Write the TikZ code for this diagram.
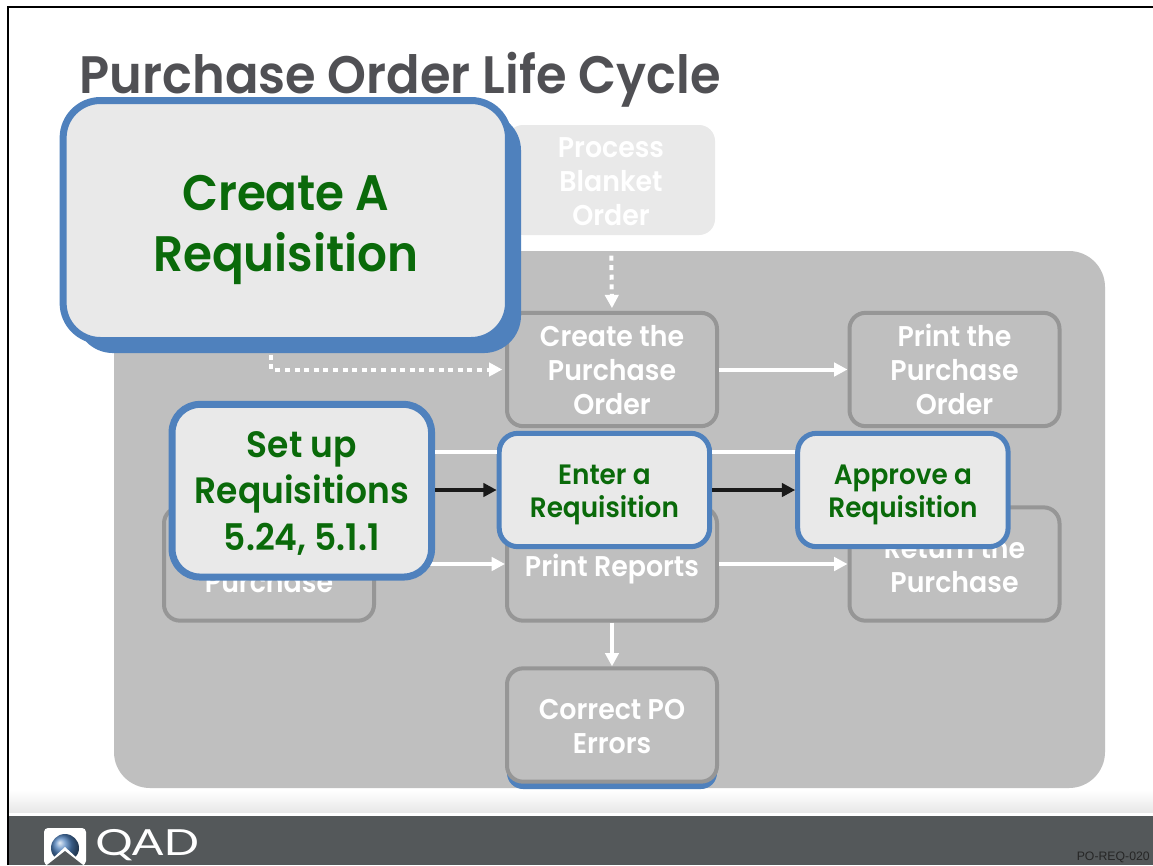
\documentclass[tikz,border=0pt]{standalone}
\usepackage{fontspec}
\setmainfont{Poppins}[FakeStretch=0.94,BoldFont={Poppins SemiBold}]
\newfontfamily\qadfont{Lato}
\usetikzlibrary{arrows.meta,shadows}
\definecolor{panelgray}{HTML}{BFBFBF}
\definecolor{edgegray}{HTML}{969696}
\definecolor{lightgray}{HTML}{E9E9E9}
\definecolor{hlblue}{HTML}{4F81BD}
\definecolor{hlgreen}{HTML}{0A6A0A}
\definecolor{footgray}{HTML}{54585A}
\definecolor{titlegray}{HTML}{505054}
\begin{document}
\begin{tikzpicture}
  [
    x=.75pt,y=-.75pt,
    lastline/.style={
      text height=#1,
      text depth=0pt
    },
    box/.style={
      draw=edgegray,
      fill=panelgray,
      line width=3pt,
      rounded corners=12pt,
      minimum width=157.5pt,
      minimum height=85pt,
      align=center,
      text=white,
      lastline=42.4pt,
      font=\fontsize{21.4}{25.5}\selectfont\bfseries
    },
    hl/.style={
      draw=hlblue,
      fill=lightgray,
      rounded corners=21pt,
      align=center,
      text=hlgreen,
      font=\bfseries
    },
    hlsmall/.style={
      hl,
      line width=3.75pt,
      rounded corners=14pt,
      minimum width=157.8pt,
      minimum height=85pt,
      lastline=41.6pt,
      font=\fontsize{21}{25}\selectfont\bfseries
    },
    flow/.style={
      white,
      line width=3pt,
      -{Triangle[length=10pt,width=10pt]}
    },
    dots/.style={
      flow,
      dash pattern=on 3.75pt off 3.45pt
    },
    stepblack/.style={
      flow,
      black!90
    }
  ]

  \useasboundingbox (0,0) rectangle (1153,865);
  \fill [white] (0,0) rectangle (1153,865);

  \shade [top color=white,bottom color=black!9] (9,790) rectangle (1153,812);
  \fill [footgray] (9,816) rectangle (1153,865);
  \draw [black,line width=1.6pt] (8,865) -- (8,7) -- (1153,7);

  \node [anchor=west,text=titlegray,font=\fontsize{39.5}{44}\selectfont\bfseries] (title) at (75,80) {Purchase Order Life Cycle};

  \fill [panelgray,rounded corners=27pt] (114,251) rectangle (1105,788);

  \node [fill=lightgray,rounded corners=12pt,minimum width=156pt,minimum height=82.5pt,align=center,text=white,lastline=67.5pt,
    font=\fontsize{21.4}{25.5}\selectfont\bfseries] (blanket) at (611,180) {Process\\Blanket\\Order};

  \foreach \n/\x/\y/\t in {
      createpo/612/369.5/{Create the\\Purchase\\Order},
      printpo/954.5/369.5/{Print the\\Purchase\\Order}} {
    \node [box,lastline=68pt] (\n) at (\x,\y) {\t};
  }
  \node [box] (returnpo) at (954.5,564) {Return the\\Purchase};
  \node [box] (purchase) at (269,564) {Purchase};
  \node [box,lastline=18pt] (reports) at (612,564) {Print Reports};
  \node [box,drop shadow={shadow xshift=0pt,shadow yshift=-5.5pt,fill=hlblue,opacity=1}] (correct) at (612,725) {Correct PO\\Errors};

  \coordinate (dotstart) at (271,345);
  \coordinate (upper) at (0,452);

  \draw [dots,shorten <=8pt,shorten >=2pt] (blanket.south) -- (createpo.north);
  \draw [dots,shorten >=2pt] (dotstart) |- (createpo.west);
  \draw [flow] (createpo.east) -- (printpo.west);
  \draw [flow] (purchase.east) -- (reports.west);
  \draw [flow] (reports.east) -- (returnpo.west);
  \draw [flow] (reports.south) -- (correct.north);

  \node [hl,line width=5.25pt,rounded corners=28pt,minimum width=334pt,minimum height=180pt,lastline=77.2pt,
    drop shadow={shadow xshift=9.4pt,shadow yshift=-9.4pt,fill=hlblue,opacity=1},
    font=\fontsize{37.4}{46}\selectfont\bfseries] (create) at (285.8,220.5) {Create A\\Requisition};
  \node [hl,line width=5.25pt,minimum width=194.6pt,minimum height=129.5pt,lastline=89pt,
    font=\fontsize{27.5}{34.8}\selectfont\bfseries] (setup) at (301.8,490.7) {Set up\\Requisitions\\5.24, 5.1.1};
  \node [hlsmall] (enter) at (604.4,490) {Enter a\\Requisition};
  \node [hlsmall] (approve) at (902.9,490) {Approve a\\Requisition};

  \draw [white,line width=3pt] (setup.east |- upper) -- (enter.west |- upper);
  \draw [white,line width=3pt] (enter.east |- upper) -- (approve.west |- upper);
  \draw [stepblack] (setup.east |- enter.west) -- (enter.west);
  \draw [stepblack] (enter.east) -- (approve.west);

  \fill [white,rounded corners=3pt] (44,828) rectangle (86,865);
  \shade [ball color=hlblue] (65,848) circle (14);
  \begin{scope}
    \clip (44,828) rectangle (86,865);
    \fill [white] (65,847) -- (90,870) -- (40,870) -- cycle;
    \fill [footgray] (65,851) -- (83,865) -- (47,865) -- cycle;
  \end{scope}
  \node [anchor=west,text=white,inner sep=0pt,font=\fontsize{27}{29}\qadfont,xscale=1.3] (qad) at (95,845) {QAD};
  \node [anchor=east,text=black!85,inner sep=0pt,font=\fontsize{9.2}{10}\selectfont\fontspec{Liberation Sans}] (code) at (1150,857) {PO-REQ-020};

\end{tikzpicture}
\end{document}
